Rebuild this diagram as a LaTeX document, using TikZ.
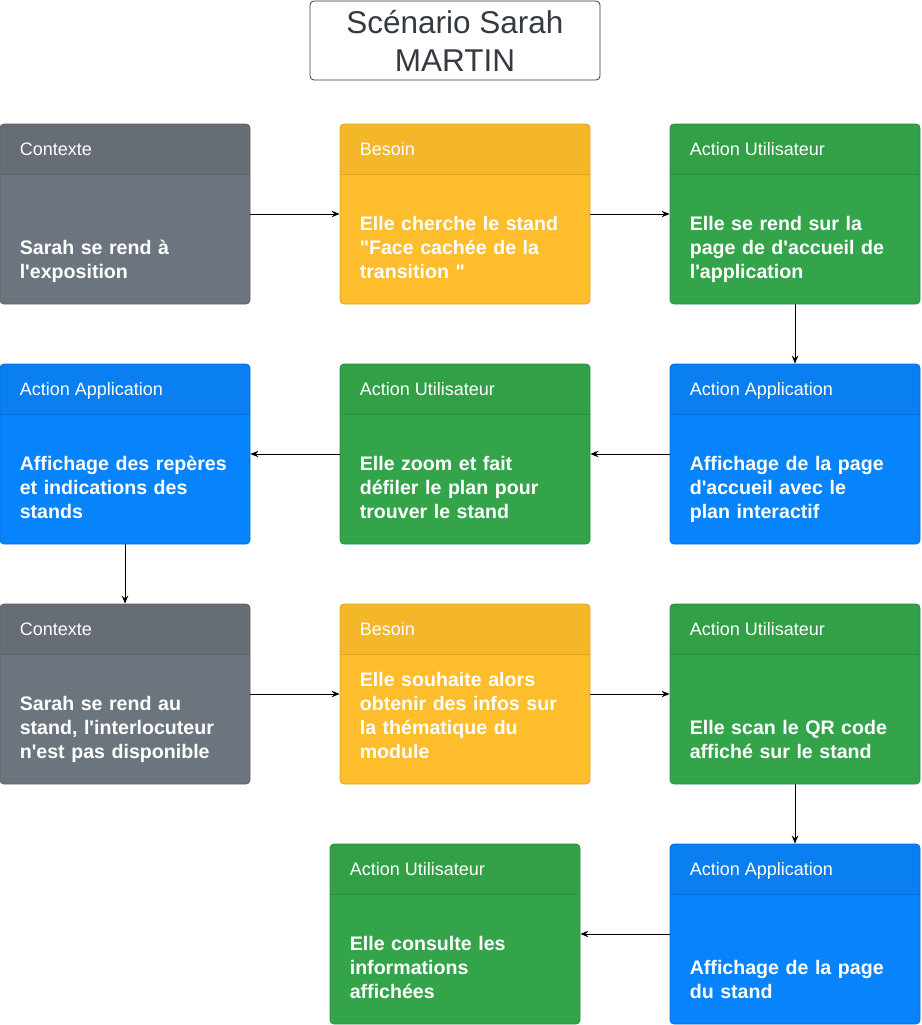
\documentclass[tikz,border=0pt]{standalone}
\usepackage{fontspec}
\newfontfamily\cardfont{Liberation Sans}
\usetikzlibrary{arrows.meta}
\definecolor{grayB}{HTML}{6C757D}\definecolor{grayH}{HTML}{666D74}\definecolor{grayL}{HTML}{5A6168}
\definecolor{yelB}{HTML}{FDBD2C}\definecolor{yelH}{HTML}{F5B72A}\definecolor{yelL}{HTML}{DDA42A}
\definecolor{grnB}{HTML}{34A44B}\definecolor{grnH}{HTML}{31A047}\definecolor{grnL}{HTML}{2B8E40}
\definecolor{bluB}{HTML}{0784FB}\definecolor{bluH}{HTML}{0A7FF2}\definecolor{bluL}{HTML}{0A6FD6}
\definecolor{titleC}{HTML}{343A40}
\tikzset{
  card/.style={rectangle, rounded corners=4pt, minimum width=250pt, minimum height=180pt, inner sep=0pt, line width=0.8pt},
  headtxt/.style={font=\cardfont\fontsize{18}{21}\selectfont, text=white, inner sep=0pt, anchor=base west},
  bodytxt/.style={font=\cardfont\bfseries\fontsize{19.6}{24}\selectfont, text=white, inner sep=0pt, anchor=south west, text width=220pt, align=left},
  arr/.style={-{Stealth[length=8pt,width=6.5pt]}, line width=1pt, black},
  titlebox/.style={draw=titleC, rounded corners=4pt, line width=0.8pt, minimum width=290pt, minimum height=79pt, align=center, text=titleC, font=\cardfont\fontsize{31.5}{38}\selectfont}
}
% name, left x, top y, colour prefix, title, body
\newcommand\mycard[6]{%
  \node[card, fill=#4B, draw=#4L, path picture={
      \fill[#4H] (path picture bounding box.north west) rectangle ([yshift=-50pt]path picture bounding box.north east);
      \draw[#4L, line width=0.8pt] ([yshift=-50pt]path picture bounding box.north west) -- ([yshift=-50pt]path picture bounding box.north east);
    }] (#1) at (#2+125,#3+90) {};
  \node[headtxt] (#1-h) at ([xshift=20pt,yshift=-31.5pt]#1.north west) {#5};
  \node[bodytxt] (#1-b) at ([xshift=20pt,yshift=-162pt]#1.north west) {#6\strut};
}
\begin{document}
\begin{tikzpicture}[x=1pt,y=-1pt]
\useasboundingbox (0,0) rectangle (921,1025);
\node[titlebox] (title) at (455,40.5) {Scénario Sarah\\MARTIN};

\mycard{a1}{0}{124}{gray}{Contexte}{Sarah se rend à\\l'exposition}
\mycard{a2}{340}{124}{yel}{Besoin}{Elle cherche le stand\\"Face cachée de la\\transition "}
\mycard{a3}{670}{124}{grn}{Action Utilisateur}{Elle se rend sur la\\page de d'accueil de\\l'application}

\mycard{b1}{0}{364}{blu}{Action Application}{Affichage des repères\\et indications des\\stands}
\mycard{b2}{340}{364}{grn}{Action Utilisateur}{Elle zoom et fait\\défiler le plan pour\\trouver le stand}
\mycard{b3}{670}{364}{blu}{Action Application}{Affichage de la page\\d'accueil avec le\\plan interactif}

\mycard{c1}{0}{604}{gray}{Contexte}{Sarah se rend au\\stand, l'interlocuteur\\n'est pas disponible}
\mycard{c2}{340}{604}{yel}{Besoin}{Elle souhaite alors\\obtenir des infos sur\\la thématique du\\module}
\mycard{c3}{670}{604}{grn}{Action Utilisateur}{Elle scan le QR code\\affiché sur le stand}

\mycard{d1}{330}{844}{grn}{Action Utilisateur}{Elle consulte les\\informations\\affichées}
\mycard{d2}{670}{844}{blu}{Action Application}{Affichage de la page\\du stand}

\draw[arr] (a1.east) -- (a2.west);
\draw[arr] (a2.east) -- (a3.west);
\draw[arr] (a3.south) -- (b3.north);
\draw[arr] (b3.west) -- (b2.east);
\draw[arr] (b2.west) -- (b1.east);
\draw[arr] (b1.south) -- (c1.north);
\draw[arr] (c1.east) -- (c2.west);
\draw[arr] (c2.east) -- (c3.west);
\draw[arr] (c3.south) -- (d2.north);
\draw[arr] (d2.west) -- (d1.east);
\end{tikzpicture}
\end{document}
